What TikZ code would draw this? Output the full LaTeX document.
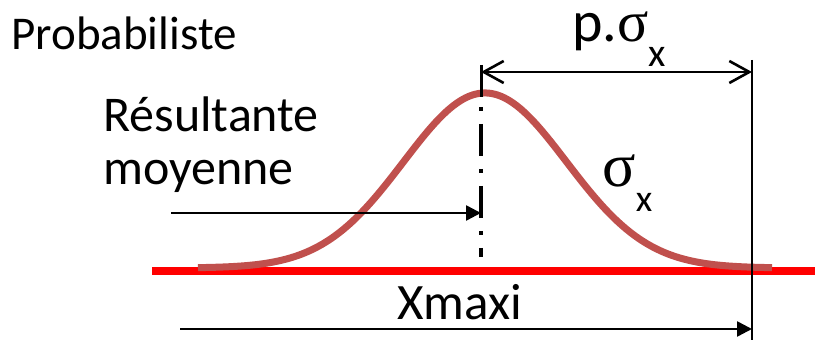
\documentclass[tikz,border=0pt]{standalone}
\usepackage{fontspec}
\setmainfont{Carlito}
\newfontfamily\grk{Liberation Serif}
\usetikzlibrary{arrows.meta,positioning}
\definecolor{curvered}{RGB}{192,80,77}
\definecolor{axisred}{RGB}{255,0,0}

\tikzset{
  lbl/.style={inner sep=0pt, anchor=base west},
  dimline/.style={line width=1.3pt},
  dimopen/.style={dimline, {Straight Barb[length=10pt,width=11pt]}-{Straight Barb[length=10pt,width=11pt]}},
  dimfill/.style={dimline, -{Triangle[length=7.5pt,width=7.5pt]}},
}

\begin{document}
\begin{tikzpicture}[x=0.5pt, y=-0.5pt]
  \useasboundingbox (0,0) rectangle (815,340);
  % texts
  \node[lbl] (prob) at (11,50) {\fontsize{23.5}{26}\selectfont Probabiliste};
  \node[lbl] (res) at (103,132) {\fontsize{25}{30}\selectfont Résultante};
  \node[lbl] (moy) at (103,185) {\fontsize{25}{30}\selectfont moyenne};
  \node[lbl, text height=14pt] (psig) at (572,42) {\fontsize{29}{30}\selectfont p.{\grk σ}\raisebox{-12.5pt}{\fontsize{20}{20}\selectfont x}};
  \node[lbl] (sig) at (602,187) {\fontsize{31}{30}\selectfont{\grk σ}\raisebox{-12.5pt}{\fontsize{19}{20}\selectfont x}};
  \node[lbl] (xmax) at (397,320) {\fontsize{25.5}{30}\selectfont Xmaxi};
  % points
  \coordinate (peakTop) at (481,65);
  \coordinate (peakMid) at (481,97);
  \coordinate (axisTop) at (481,107);
  \coordinate (peakBot) at (481,257);
  \coordinate (edgeTop) at (752,60);
  \coordinate (edgeBot) at (752,340);
  \coordinate (axisL) at (152,271);
  \coordinate (axisR) at (815,271);
  \coordinate (moyL) at (171,213);
  \coordinate (moyR) at (481,213);
  \coordinate (xmaxL) at (180,329);
  \coordinate (xmaxR) at (752,329);
  % base line and curve
  \draw[axisred, line width=4pt] (axisL) -- (axisR);
  \draw[curvered, line width=3.5pt, smooth, samples=120, domain=198:772]
    plot (\x, {268-175*exp(-((\x-485)/100)^2/1.3278)});
  % lines
  \draw[line width=1.5pt] (peakTop) -- (peakMid);
  \draw[line width=1.7pt, dash pattern=on 2pt off 6.5pt on 16pt off 6.5pt] (axisTop) -- (peakBot);
  \draw[line width=1.3pt] (edgeTop) -- (edgeBot);
  \draw[dimopen] (peakTop |- 0,72) -- (edgeTop |- 0,72);
  \draw[dimfill] (moyL) -- (moyR);
  \draw[dimfill] (xmaxL) -- (xmaxR);
\end{tikzpicture}
\end{document}
